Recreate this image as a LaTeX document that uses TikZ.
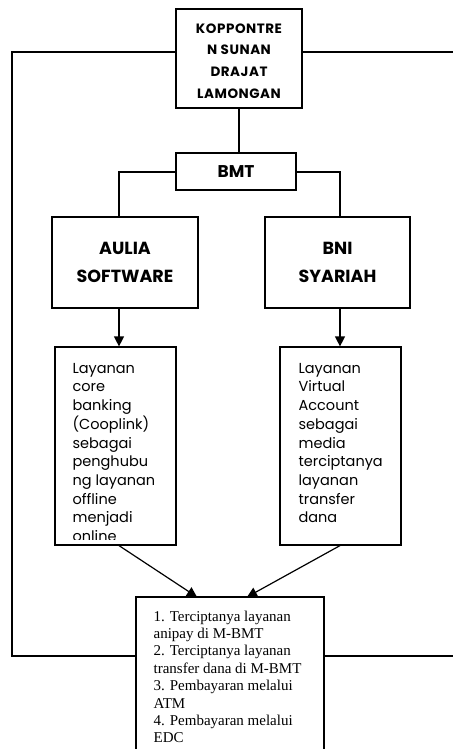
\documentclass[tikz,border=0pt]{standalone}
\usepackage{fontspec}
\setmainfont{Liberation Serif}
\newfontfamily\gothic{Poppins}
\newfontfamily\gothicwide{Poppins}[LetterSpace=4]
\usetikzlibrary{arrows.meta}
\begin{document}
\begin{tikzpicture}[x=1pt,y=-1pt,
  line width=1.2pt,
  boxnode/.style={draw, line width=1.2pt, inner sep=0pt, fill=white},
  head/.style={font=\gothicwide\bfseries\fontsize{13.5}{21.7}\selectfont, align=center},
  midhead/.style={font=\gothic\bfseries\fontsize{17}{22}\selectfont, align=center},
  bighead/.style={font=\gothic\bfseries\fontsize{17.5}{28.4}\selectfont, align=center},
  body/.style={font=\gothic\fontsize{14.5}{18.7}\selectfont, align=left, anchor=north west, inner sep=0pt},
  serifbody/.style={font=\fontsize{15}{17.4}\selectfont, align=left, anchor=north west, inner sep=0pt},
  arr/.style={-{Triangle[width=10pt,length=10pt]}}]
\useasboundingbox (0,0) rectangle (453,749);
\clip (0,0) rectangle (453,749);
\fill[white] (0,0) rectangle (453,749);

% boxes
\node[boxnode, minimum width=126pt, minimum height=99pt] (top) at (239,58.5) {};
\node[head] (toptext) at (239,61) {KOPPONTRE\\N SUNAN\\DRAJAT\\LAMONGAN};
\node[boxnode, minimum width=120pt, minimum height=37pt, midhead] (bmt) at (236,171.5) {BMT};
\node[boxnode, minimum width=146pt, minimum height=91pt, bighead] (aulia) at (125,262.5) {AULIA\\SOFTWARE};
\node[boxnode, minimum width=145pt, minimum height=91pt, bighead] (bni) at (337.5,262.5) {BNI\\SYARIAH};
\node[boxnode, minimum width=121pt, minimum height=198pt] (ltext) at (115.5,446) {};
\node[boxnode, minimum width=121pt, minimum height=198pt] (rtext) at (340.5,446) {};
\node[boxnode, minimum width=188pt, minimum height=203pt] (bottom) at (230,698.5) {};

% texts in the tall boxes
\coordinate (lclipend) at (176,539.5);
\begin{scope}
  \clip (ltext.north west) rectangle (lclipend);
  \node[body] (ltxt) at (72,362.5) {Layanan\\core\\banking\\(Cooplink)\\sebagai\\penghubu\\ng layanan\\offline\\menjadi\\online};
\end{scope}
\node[body] (rtxt) at (298,362.5) {Layanan\\Virtual\\Account\\sebagai\\media\\terciptanya\\layanan\\transfer\\dana};
\node[serifbody] (btxt) at (153,610) {1. Terciptanya layanan\\anipay di M-BMT\\2. Terciptanya layanan\\transfer dana di M-BMT\\3. Pembayaran melalui\\ATM\\4. Pembayaran melalui\\EDC};

% helper coordinates
\coordinate (y52) at (0,52);
\coordinate (y172) at (0,172);
\coordinate (y656) at (0,656);
\coordinate (lx) at (12,0);
\coordinate (ax) at (119,0);
\coordinate (bx) at (340,0);
\coordinate (tl) at (top.west |- y52);
\coordinate (tr) at (top.east |- y52);
\coordinate (redge) at (453,52);
\coordinate (bl) at (bottom.west |- y656);
\coordinate (br) at (bottom.east |- y656);
\coordinate (redge2) at (453,656);
\coordinate (lcorner) at (lx |- y52);
\coordinate (bmtl) at (bmt.west |- y172);
\coordinate (bmtr) at (bmt.east |- y172);
\coordinate (auliatop) at (ax |- aulia.north);
\coordinate (bnitop) at (bx |- bni.north);
\coordinate (auliabot) at (ax |- aulia.south);
\coordinate (bnibot) at (bx |- bni.south);
\coordinate (ltop) at (ax |- ltext.north);
\coordinate (rtop) at (bx |- rtext.north);
\coordinate (lbot) at (ax |- ltext.south);
\coordinate (rbot) at (bx |- rtext.south);
\coordinate (bin1) at (197,597);
\coordinate (bin2) at (247,597);

% connectors
\draw (tl) -| (lcorner) |- (bl);
\draw (tr) -- (redge);
\draw (br) -- (redge2);
\draw (top.south) -- (top.south |- bmt.north);
\draw (bmtl) -| (auliatop);
\draw (bmtr) -| (bnitop);
\draw[arr] (auliabot) -- (ltop);
\draw[arr] (bnibot) -- (rtop);
\draw[arr] (lbot) -- (bin1);
\draw[arr] (rbot) -- (bin2);
\end{tikzpicture}
\end{document}
